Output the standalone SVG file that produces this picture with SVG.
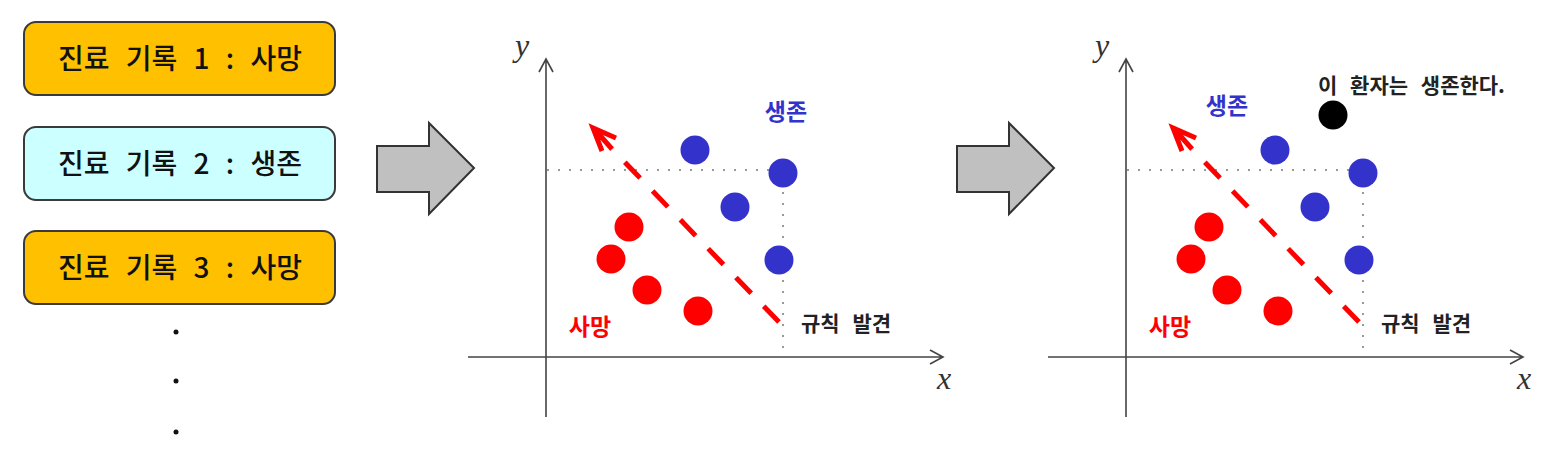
<svg xmlns="http://www.w3.org/2000/svg" width="1556" height="454" viewBox="0 0 1556 454">
<defs>
<style>
.box{stroke:#3a3a3a;stroke-width:2}
.btxt{font-family:"Noto Sans CJK KR","Noto Sans CJK SC",sans-serif;font-size:28px;font-weight:500;fill:#111;text-anchor:middle;word-spacing:10px}
.axis{stroke:#444;stroke-width:1.6;fill:none}
.guide{stroke:#999;stroke-width:2;stroke-dasharray:2 9;fill:none}
.red{fill:#FF0000}
.blue{fill:#3333CC}
.lbl{font-family:"Noto Sans CJK KR","Noto Sans CJK SC",sans-serif;font-size:23px;font-weight:bold}
.note{font-family:"Noto Sans CJK KR","Noto Sans CJK SC",sans-serif;font-size:21px;font-weight:bold;fill:#222;word-spacing:8px}
.var{font-family:"Liberation Serif",serif;font-style:italic;font-size:32px;fill:#333;text-anchor:middle}
.rule{stroke:#FF0000;stroke-width:5;fill:none;stroke-dasharray:22 18}
.head{stroke:#FF0000;stroke-width:5;fill:none;stroke-linejoin:miter}
.big{fill:#c0c0c0;stroke:#333;stroke-width:2;stroke-linejoin:miter}
</style>
</defs>
<rect width="1556" height="454" fill="#fff"/>

<g id="record1">
<rect class="box" x="24" y="22" width="311" height="73" rx="12" fill="#FFC000"/>
<text class="btxt" x="180" y="69">진료 기록 1 : 사망</text>
</g>
<g id="record2">
<rect class="box" x="24" y="127" width="311" height="73" rx="12" fill="#CCFFFF"/>
<text class="btxt" x="180" y="174">진료 기록 2 : 생존</text>
</g>
<g id="record3">
<rect class="box" x="24" y="231" width="311" height="73" rx="12" fill="#FFC000"/>
<text class="btxt" x="180" y="278">진료 기록 3 : 사망</text>
</g>
<g id="ellipsis" fill="#111">
<circle cx="176" cy="332" r="2.5"/>
<circle cx="176" cy="381" r="2.5"/>
<circle cx="176" cy="432" r="2.5"/>
</g>

<g id="connectors">
<polygon class="big" points="377,146 429,146 429,123 474,168 429,214 429,192 377,192"/>
<polygon class="big" points="957,146 1009,146 1009,123 1054,168 1009,214 1009,192 957,192"/>
</g>

<g id="plot1">
<path class="guide" d="M547,170 H783 M783,170 V357"/>
<path class="axis" d="M546,417 V59 M539,72 L546,59 L553,72"/>
<path class="axis" d="M468,357 H943 M930,350 L943,357 L930,364"/>
<text class="var" x="522" y="56">y</text>
<text class="var" x="944" y="389">x</text>
<g class="blue">
<circle cx="695" cy="150" r="14.5"/>
<circle cx="783" cy="173" r="14.5"/>
<circle cx="735" cy="207" r="14.5"/>
<circle cx="779" cy="260" r="14.5"/>
</g>
<g class="red">
<circle cx="629" cy="227" r="14.5"/>
<circle cx="611" cy="259" r="14.5"/>
<circle cx="647" cy="290" r="14.5"/>
<circle cx="698" cy="311" r="14.5"/>
</g>
<path class="rule" d="M779,322 L612,149"/>
<path class="head" d="M612,149 L596,131 M616,138 L593,128 L602,151"/>
<text class="lbl blue" x="786" y="120" text-anchor="middle">생존</text>
<text class="lbl red" x="590" y="335" text-anchor="middle">사망</text>
<text class="note" x="801" y="331">규칙 발견</text>
</g>

<g id="plot2">
<g transform="translate(580,0)">
<path class="guide" d="M547,170 H783 M783,170 V357"/>
<path class="axis" d="M546,417 V59 M539,72 L546,59 L553,72"/>
<path class="axis" d="M468,357 H943 M930,350 L943,357 L930,364"/>
<text class="var" x="522" y="56">y</text>
<text class="var" x="944" y="389">x</text>
<g class="blue">
<circle cx="695" cy="150" r="14.5"/>
<circle cx="783" cy="173" r="14.5"/>
<circle cx="735" cy="207" r="14.5"/>
<circle cx="779" cy="260" r="14.5"/>
</g>
<g class="red">
<circle cx="629" cy="227" r="14.5"/>
<circle cx="611" cy="259" r="14.5"/>
<circle cx="647" cy="290" r="14.5"/>
<circle cx="698" cy="311" r="14.5"/>
</g>
<path class="rule" d="M779,322 L612,149"/>
<path class="head" d="M612,149 L596,131 M616,138 L593,128 L602,151"/>
<text class="lbl red" x="590" y="335" text-anchor="middle">사망</text>
<text class="note" x="801" y="331">규칙 발견</text>
</g>
<text class="lbl blue" x="1227" y="114" text-anchor="middle">생존</text>
<circle cx="1333" cy="115" r="14.5" fill="#000"/>
<text class="note" x="1318" y="93">이 환자는 생존한다.</text>
</g>
</svg>
